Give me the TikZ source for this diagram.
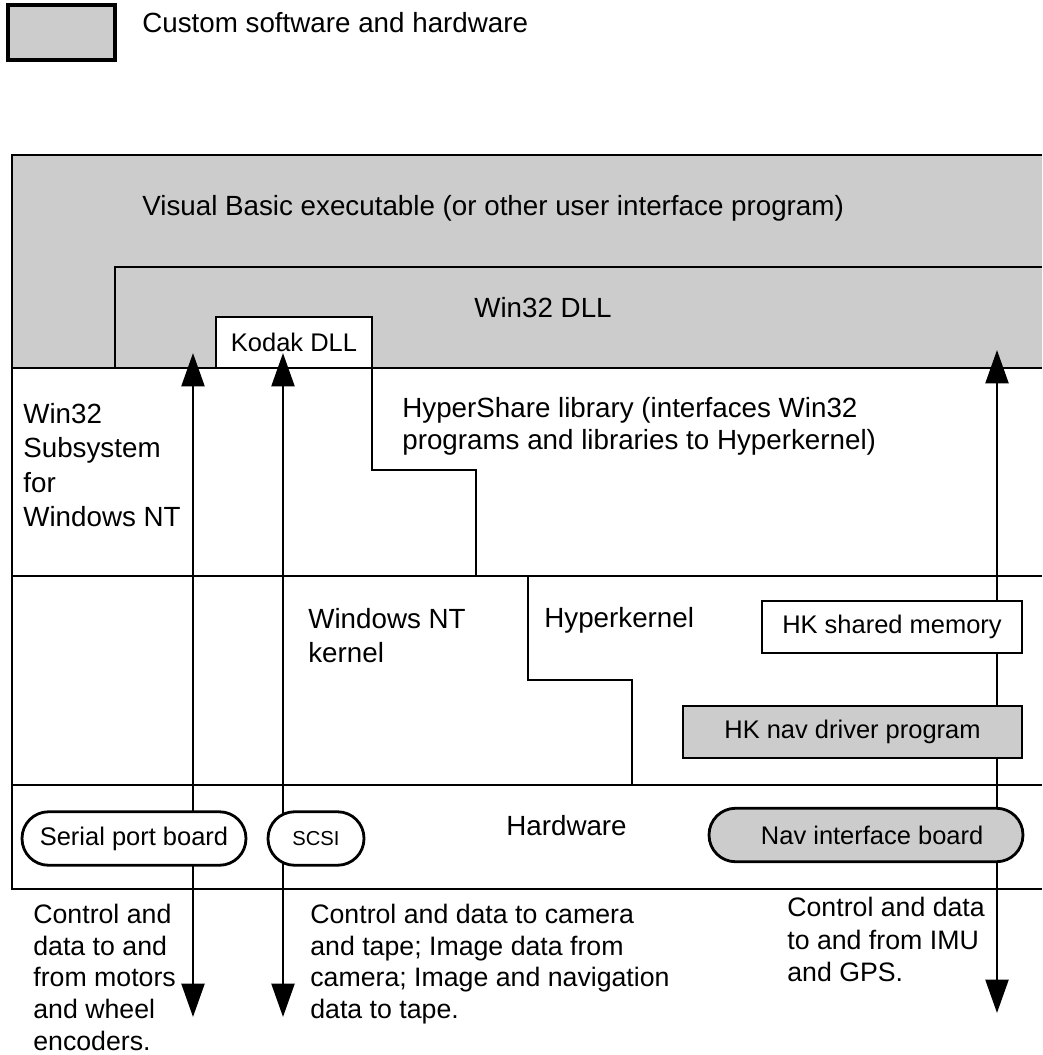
\documentclass[tikz,border=0pt]{standalone}
\usepackage{fontspec}
\setmainfont{Liberation Sans}
\usetikzlibrary{arrows.meta,positioning}

\begin{document}
\begin{tikzpicture}[x=0.02cm, y=-0.02cm,
	lyr/.style={line width=1.6pt},
	custom/.style={fill=black!20},
	lbl/.style={inner sep=0pt, align=left, font=\fontsize{15.8}{19.6}\selectfont},
	note/.style={inner sep=0pt, align=left, font=\fontsize{15.2}{18}\selectfont},
	boxlbl/.style={draw, line width=1.6pt, inner sep=0pt, minimum height=1.04cm, font=\fontsize{14.5}{17}\selectfont},
	board/.style={boxlbl, rounded corners=0.53cm, minimum height=1.07cm},
	dblarrow/.style={line width=1.6pt, {Triangle[length=19pt,width=13pt]}-{Triangle[length=19pt,width=13pt]}}]
\useasboundingbox (0,0) rectangle (1042,1055);
% Legend
\node[custom, draw, line width=2pt, minimum width=2.14cm, minimum height=1.1cm, inner sep=0pt] (legbox) at (61.5,32.5) {};
\node[lbl, anchor=base west] (legtext) at (142,32) {Custom software and hardware};
% Gray layers: user interface program and Win32 DLL
\fill[custom] (12,155) rectangle (1042,368);
\draw[lyr] (1042,155) -- (12,155) -- (12,889) -- (1042,889);
\draw[lyr] (1042,267) -- (115,267) -- (115,368);
\draw[lyr] (12,368) -- (1042,368);
% HyperShare library step
\draw[lyr] (372,368) -- (372,470) -- (476,470) -- (476,576);
\draw[lyr] (12,576) -- (1042,576);
% Windows NT kernel / Hyperkernel step
\draw[lyr] (528,576) -- (528,680) -- (632,680) -- (632,785);
\draw[lyr] (12,785) -- (1042,785);
% Kodak DLL
\node[boxlbl, fill=white, minimum width=3.12cm, minimum height=1.02cm] (kodak) at (294,342.5) {Kodak DLL};
% Data paths
\coordinate (serTop) at (193,353);
\coordinate (serEnd) at (193,1017);
\coordinate (scsiTop) at (283,353);
\coordinate (scsiEnd) at (283,1017);
\coordinate (navTop) at (997,350);
\coordinate (navEnd) at (997,1013);
\draw[dblarrow] (serTop) -- (serEnd);
\draw[dblarrow] (scsiTop) -- (scsiEnd);
\draw[dblarrow] (navTop) -- (navEnd);
% Hyperkernel boxes
\node[boxlbl, fill=white, minimum width=5.2cm] (hkmem) at (892,627) {HK shared memory};
\node[boxlbl, custom, minimum width=6.78cm] (hknav) at (852.5,732) {HK nav driver program};
% Hardware boards
\node[board, fill=white, minimum width=4.48cm] (serial) at (134,838.5) {Serial port board};
\node[board, fill=white, minimum width=1.92cm, font=\fontsize{11.5}{14}\selectfont] (scsi) at (316,838.5) {SCSI};
\node[board, custom, minimum width=6.28cm] (navboard) at (866,835) {\hspace{7pt}Nav interface board};
% Layer labels
\node[lbl, anchor=base west] (vb) at (142,215) {Visual Basic executable (or other user interface program)};
\node[lbl, anchor=base west] (w32dll) at (474,317) {Win32 DLL};
\node[lbl, anchor=north west] (w32sub) at (23,403) {Win32\\Subsystem\\for\\Windows NT};
\node[lbl, anchor=north west, font=\fontsize{15.8}{18}\selectfont] (hshare) at (402,397)
	{HyperShare library (interfaces Win32\\programs and libraries to Hyperkernel)};
\node[lbl, anchor=north west, font=\fontsize{15.8}{19.3}\selectfont] (ntk) at (308,608) {Windows NT\\kernel};
\node[lbl, anchor=base west] (hyk) at (544,627) {Hyperkernel};
\node[lbl, anchor=base west] (hw) at (506,835) {Hardware};
% Notes below the hardware
\node[note, anchor=north west] (motors) at (33,904)
	{Control and\\data to and\\from motors\\and wheel\\encoders.};
\node[note, anchor=north west] (camera) at (310,904)
	{Control and data to camera\\and tape; Image data from\\camera; Image and navigation\\data to tape.};
\node[note, anchor=north west, font=\fontsize{15.2}{18.4}\selectfont] (imu) at (787,897)
	{Control and data\\to and from IMU\\and GPS.};
\end{tikzpicture}
\end{document}
